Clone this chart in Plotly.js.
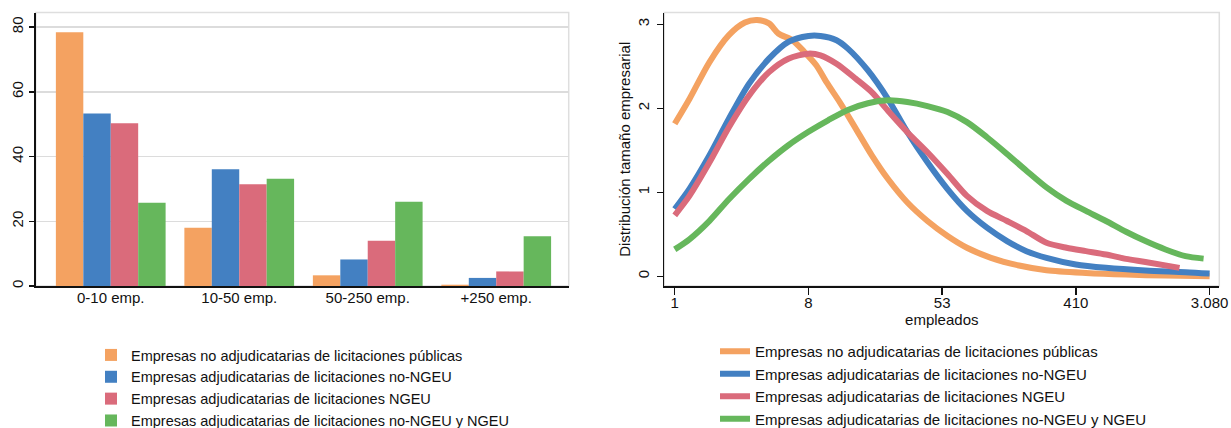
<!DOCTYPE html>
<html>
<head>
<meta charset="utf-8">
<script src="https://cdn.plot.ly/plotly-3.0.1.min.js"></script>
<style>html,body{margin:0;padding:0;background:#fff;overflow:hidden;}#chart{width:1231px;height:428px;}</style>
</head>
<body>
<div id="chart"></div>
<script>
// ---- data ----
const categories = ['0-10 emp.', '10-50 emp.', '50-250 emp.', '+250 emp.'];
const seriesNames = [
  'Empresas no adjudicatarias de licitaciones públicas',
  'Empresas adjudicatarias de licitaciones no-NGEU',
  'Empresas adjudicatarias de licitaciones NGEU',
  'Empresas adjudicatarias de licitaciones no-NGEU y NGEU'
];
const barNoAdj     = [78.4, 18.0, 3.3, 0.4];
const barAdjNoNGEU = [53.3, 36.1, 8.2, 2.5];
const barAdjNGEU   = [50.3, 31.4, 14.0, 4.5];
const barAdjAmbas  = [25.7, 33.1, 26.0, 15.4];

// density curves: x in log-scale position (tick i*2 -> label), y density
const kdeXNoAdj = [0, 0.22, 0.52, 0.81, 1.05, 1.23, 1.41, 1.55, 1.76, 1.94, 2.12, 2.27, 2.47, 2.71, 2.95, 3.19, 3.48, 3.78, 4.08, 4.37, 4.73, 5.15, 5.56, 6.15, 6.75, 7.34, 8.0];
const kdeYNoAdj = [1.815, 2.11, 2.55, 2.87, 3.02, 3.05, 3.01, 2.89, 2.81, 2.67, 2.51, 2.31, 2.07, 1.755, 1.436, 1.157, 0.878, 0.658, 0.479, 0.339, 0.219, 0.128, 0.072, 0.04, 0.02, 0.008, 0.0];
const kdeXAdjNoNGEU = [0, 0.22, 0.52, 0.81, 1.11, 1.41, 1.70, 2.0, 2.18, 2.42, 2.59, 2.89, 3.19, 3.48, 3.78, 4.08, 4.37, 4.67, 4.97, 5.26, 5.56, 6.0, 6.45, 7.04, 7.64, 8.0];
const kdeYAdjNoNGEU = [0.80, 1.04, 1.44, 1.875, 2.29, 2.59, 2.79, 2.86, 2.86, 2.81, 2.71, 2.45, 2.11, 1.715, 1.356, 1.037, 0.778, 0.578, 0.419, 0.299, 0.219, 0.14, 0.10, 0.068, 0.048, 0.032];
const kdeXAdjNGEU = [0, 0.22, 0.52, 0.81, 1.11, 1.41, 1.70, 2.0, 2.18, 2.42, 2.71, 2.95, 3.19, 3.48, 3.78, 4.08, 4.37, 4.67, 4.97, 5.26, 5.56, 5.86, 6.15, 6.45, 6.75, 7.04, 7.55];
const kdeYAdjNGEU = [0.726, 0.957, 1.356, 1.775, 2.15, 2.43, 2.59, 2.65, 2.63, 2.53, 2.35, 2.19, 1.97, 1.715, 1.476, 1.217, 0.957, 0.778, 0.658, 0.538, 0.399, 0.339, 0.299, 0.259, 0.207, 0.17, 0.10];
const kdeXAdjAmbas = [0, 0.22, 0.52, 0.81, 1.11, 1.41, 1.70, 2.0, 2.30, 2.59, 2.89, 3.19, 3.48, 3.78, 4.08, 4.37, 4.67, 4.97, 5.26, 5.56, 5.86, 6.15, 6.45, 6.75, 7.04, 7.34, 7.64, 7.91];
const kdeYAdjAmbas = [0.32, 0.44, 0.66, 0.917, 1.157, 1.375, 1.56, 1.72, 1.86, 1.98, 2.06, 2.094, 2.074, 2.026, 1.955, 1.835, 1.655, 1.456, 1.256, 1.057, 0.897, 0.778, 0.658, 0.53, 0.419, 0.319, 0.239, 0.21];

const xTickVals = [0, 2, 4, 6, 8];
const xTickText = ['1', '8', '53', '410', '3.080'];

// ---- style ----
const colors = ['#F4A261', '#4380C2', '#DA6B7B', '#66B75C'];
const FONT = 'Liberation Sans, Arial, Helvetica, sans-serif';

const barVals = [barNoAdj, barAdjNoNGEU, barAdjNGEU, barAdjAmbas];
const kdeX = [kdeXNoAdj, kdeXAdjNoNGEU, kdeXAdjNGEU, kdeXAdjAmbas];
const kdeY = [kdeYNoAdj, kdeYAdjNoNGEU, kdeYAdjNGEU, kdeYAdjAmbas];

const traces = [];
for (let i = 0; i < 4; i++) {
  traces.push({
    type: 'bar', x: categories, y: barVals[i], name: seriesNames[i],
    marker: {color: colors[i], line: {width: 0}},
    xaxis: 'x', yaxis: 'y', legend: 'legend', hoverinfo: 'y'
  });
}
for (let i = 0; i < 4; i++) {
  traces.push({
    type: 'scatter', mode: 'lines', x: kdeX[i], y: kdeY[i], name: seriesNames[i],
    line: {color: colors[i], width: 6, shape: 'spline', smoothing: 0.8},
    xaxis: 'x2', yaxis: 'y2', legend: 'legend2'
  });
}

const W = 1231, H = 428;
const yDom = [1 - 286 / H, 1 - 12.5 / H];

const layout = {
  width: W, height: H,
  margin: {l: 0, r: 0, t: 0, b: 0, autoexpand: false},
  paper_bgcolor: '#fff', plot_bgcolor: '#fff',
  font: {family: FONT, size: 15, color: '#111'},
  barmode: 'group', bargap: 0.146, bargroupgap: 0,
  showlegend: true,
  xaxis: {
    domain: [35.7 / W, 568.7 / W], type: 'category', range: [-0.584, 3.564],
    showline: true, linecolor: '#111', linewidth: 1.5,
    ticks: '', showgrid: false, zeroline: false, automargin: false,
    ticklabelstandoff: -3, tickfont: {size: 15}
  },
  yaxis: {
    domain: yDom, range: [0, 84.5],
    tickvals: [0, 20, 40, 60, 80],
    showline: true, linecolor: '#111', linewidth: 1.5,
    ticks: 'outside', ticklen: 5, tickwidth: 1.5, tickcolor: '#111',
    tickangle: -90, showgrid: true, gridcolor: '#dcdcdc', gridwidth: 1.5,
    zeroline: false, automargin: false, tickfont: {size: 15}
  },
  xaxis2: {
    domain: [664.3 / W, 1219.3 / W], range: [-0.156, 8.145],
    tickvals: xTickVals, ticktext: xTickText,
    showline: true, linecolor: '#111', linewidth: 1.5,
    ticks: 'outside', ticklen: 7, tickwidth: 1.5, tickcolor: '#111',
    showgrid: false, zeroline: false, automargin: false,
    ticklabelstandoff: -5,
    title: {text: 'empleados', font: {size: 15}, standoff: 0},
    anchor: 'y2', tickfont: {size: 15}
  },
  yaxis2: {
    domain: yDom, range: [-0.116, 3.14],
    tickvals: [0, 1, 2, 3],
    showline: true, linecolor: '#111', linewidth: 1.5,
    ticks: 'outside', ticklen: 6, tickwidth: 1.5, tickcolor: '#111',
    tickangle: -90, showgrid: false, zeroline: false, automargin: false,
    ticklabelstandoff: 2,
    title: {text: 'Distribución tamaño empresarial', font: {size: 15}, standoff: 0},
    anchor: 'x2', tickfont: {size: 15}
  },
  shapes: [
    {type: 'rect', xref: 'x domain', yref: 'y domain', x0: 0, x1: 1, y0: 0, y1: 1,
     line: {color: '#dedede', width: 1.5}, layer: 'below'},
    {type: 'rect', xref: 'x2 domain', yref: 'y2 domain', x0: 0, x1: 1, y0: 0, y1: 1,
     line: {color: '#dedede', width: 1.5}, layer: 'below'}
  ],
  legend: {
    x: 91 / W, y: 1 - 339 / H, xanchor: 'left', yanchor: 'top',
    bgcolor: 'rgba(0,0,0,0)', font: {size: 14.5, family: FONT}, traceorder: 'normal'
  },
  legend2: {
    x: 715 / W, y: 1 - 335 / H, xanchor: 'left', yanchor: 'top',
    bgcolor: 'rgba(0,0,0,0)', font: {size: 15, family: FONT}, traceorder: 'normal'
  }
};

Plotly.newPlot('chart', traces, layout, {displayModeBar: false, staticPlot: true});
</script>
</body>
</html>
